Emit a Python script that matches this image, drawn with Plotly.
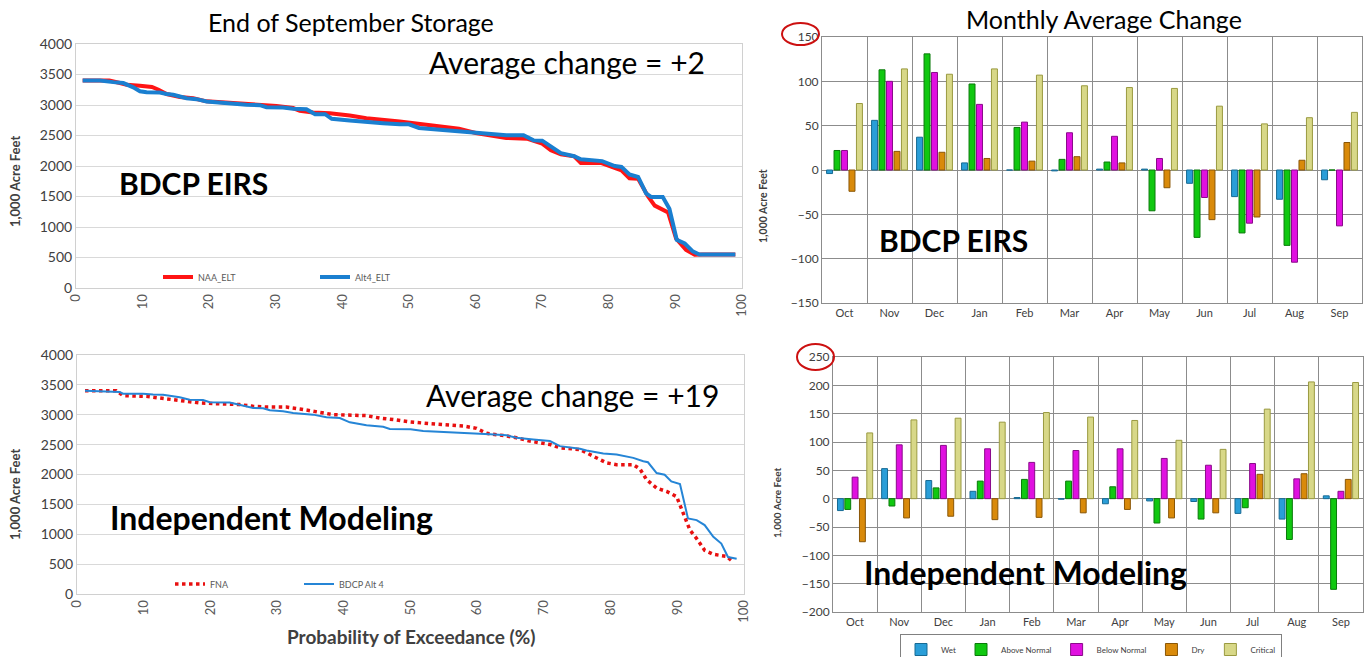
import plotly.graph_objects as go

W, H = 1365, 657

# ---------------- data ----------------
# Top-left: End of September storage, BDCP EIRS
eirs_naa_x = [1, 5, 6.6, 7.6, 9.6, 11.4, 12.4, 13.6, 15.6, 17.6, 19.6, 22.6, 26.6, 30.1, 32.6, 33.6, 35.6,
              38.1, 41.1, 43.6, 48.6, 50, 52.5, 55.6, 57.5, 60, 62.1, 64.6, 67.7, 70, 71.3, 72.8, 74.8,
              75.8, 78.8, 80.9, 81.9, 83.1, 84.4, 85.9, 86.9, 88.9, 90.1, 91.6, 92.9, 94, 99]
eirs_naa_y = [3400, 3400, 3360, 3330, 3315, 3295, 3250, 3180, 3130, 3110, 3060, 3040, 3020, 2985, 2950, 2905, 2877,
              2866, 2827, 2784, 2729, 2712, 2674, 2647, 2612, 2541, 2503, 2459, 2448, 2366, 2257, 2191, 2158,
              2050, 2050, 1960, 1930, 1800, 1790, 1500, 1350, 1240, 810, 625, 545, 550, 550]
eirs_alt4_x = [1, 3.6, 5.6, 7.1, 8.6, 9.6, 10.6, 12.6, 13.6, 14.6, 16.6, 18.1, 19.6, 20.6, 23.6, 25.6, 27.6,
               28.6, 31.1, 32.6, 34.6, 35.1, 35.9, 37.4, 38.4, 41.1, 43.6, 46.1, 48.6, 50, 51.5, 55.6,
               60, 64.6, 67.2, 68.7, 70, 72.8, 74.8, 75.8, 79, 80.9, 81.9, 83.1, 84.4, 85.6, 86.4, 88.1,
               89.1, 90.2, 91.4, 92.6, 93.6, 99]
eirs_alt4_y = [3400, 3400, 3375, 3360, 3290, 3225, 3210, 3205, 3180, 3167, 3112, 3096, 3058, 3047, 3030, 3003, 2997,
               2964, 2959, 2937, 2932, 2893, 2849, 2849, 2773, 2745, 2718, 2701, 2685, 2683, 2623, 2585,
               2547, 2503, 2503, 2420, 2415, 2210, 2160, 2110, 2080, 2000, 1985, 1860, 1820, 1550, 1490, 1490,
               1300, 790, 730, 600, 550, 550]

# Bottom-left: Independent modeling
ind_fna_x = [1.2, 5.9, 6.9, 10.4, 12.4, 14.4, 15.6, 18.4, 24.4, 26.4, 28.4, 31.4, 33.4, 36.4, 38.4, 43.4,
             45.4, 47.9, 50, 52.9, 55.4, 57.9, 59.9, 61.4, 64.4, 65.9, 67.9, 70.9, 72.4, 75.4, 77.4,
             79.4, 80.9, 83.4, 84.4, 85.4, 86.9, 88.4, 89.9, 90.9, 91.9, 92.9, 94.1, 95.4, 97.4, 98.4]
ind_fna_y = [3403, 3403, 3319, 3308, 3280, 3253, 3225, 3197, 3170, 3141, 3130, 3128, 3097, 3041, 3002, 2985,
             2945, 2913, 2880, 2851, 2829, 2812, 2773, 2689, 2644, 2615, 2559, 2503, 2447, 2418, 2306,
             2194, 2165, 2165, 2092, 1912, 1772, 1716, 1631, 1350, 1069, 928, 731, 664, 630, 534]
ind_alt4_x = [1.2, 6.4, 6.9, 9.9, 11.4, 12.9, 15.4, 16.9, 18.9, 19.9, 22.9, 24.4, 26.4, 27.9, 28.9, 30.9,
              32.4, 35.4, 37.4, 39.4, 40.9, 43.4, 44.9, 45.9, 46.9, 50, 51.9, 55.4, 59.9, 61.9, 64.4,
              65.9, 68.4, 70.9, 72.4, 75.4, 76.4, 78.9, 80.9, 83.4, 84.9, 85.6, 86.9, 88.1, 89.1, 90.4,
              91.6, 92.9, 94.1, 95.4, 96.6, 97.6, 98.9]
ind_alt4_y = [3403, 3381, 3353, 3353, 3340, 3336, 3292, 3253, 3245, 3208, 3205, 3170, 3114, 3110, 3075, 3058,
              3030, 3002, 2957, 2946, 2873, 2823, 2806, 2800, 2762, 2756, 2728, 2711, 2694, 2672, 2655,
              2615, 2587, 2559, 2475, 2430, 2401, 2351, 2334, 2278, 2222, 2205, 2025, 1997, 1884, 1840,
              1265, 1237, 1153, 956, 844, 619, 591]

months = ["Oct", "Nov", "Dec", "Jan", "Feb", "Mar", "Apr", "May", "Jun", "Jul", "Aug", "Sep"]
year_types = ["Wet", "Above Normal", "Below Normal", "Dry", "Critical"]

# Top-right: monthly average change, BDCP EIRS
eirs_wet = [-4, 56, 37, 8, 0, -1, 1, 1, -15, -30, -33, -11]
eirs_an = [22, 113, 131, 97, 48, 12, 9, -46, -76, -71, -85, 0]
eirs_bn = [22, 100, 110, 74, 54, 42, 38, 13, -31, -60, -104, -63]
eirs_dry = [-24, 21, 20, 13, 10, 15, 8, -20, -56, -53, 11, 31]
eirs_crit = [75, 114, 108, 114, 107, 95, 93, 92, 72, 52, 59, 65]

# Bottom-right: monthly average change, Independent modeling
ind_wet = [-21, 53, 32, 13, 2, -1, -9, -4, -5, -26, -36, 5]
ind_an = [-19, -13, 19, 31, 34, 31, 21, -43, -36, -16, -72, -160]
ind_bn = [38, 95, 94, 88, 64, 85, 88, 71, 59, 62, 35, 13]
ind_dry = [-76, -34, -31, -37, -33, -25, -19, -34, -25, 43, 44, 34]
ind_crit = [116, 139, 142, 135, 152, 144, 138, 103, 87, 158, 206, 205]

bar_fill = ["#2a9ed8", "#10c810", "#e010e0", "#d98a0a", "#d8d888"]
bar_edge = ["#176a94", "#0a7a0a", "#8a0a8a", "#8a5606", "#9a9a40"]

# ---------------- helpers (pixel -> paper) ----------------
def px(x):
    return x / W

def py(y):
    return 1 - y / H

fig = go.Figure()

# ---- line charts ----
fig.add_trace(go.Scatter(x=eirs_naa_x, y=eirs_naa_y, mode="lines", name="NAA_ELT",
                         line=dict(color="#ff1414", width=4), xaxis="x", yaxis="y", legend="legend"))
fig.add_trace(go.Scatter(x=eirs_alt4_x, y=eirs_alt4_y, mode="lines", name="Alt4_ELT",
                         line=dict(color="#1a7fd0", width=4), xaxis="x", yaxis="y", legend="legend"))
fig.add_trace(go.Scatter(x=ind_fna_x, y=ind_fna_y, mode="lines", name="FNA",
                         line=dict(color="#e81010", width=3.5, dash="dot"), xaxis="x2", yaxis="y2", legend="legend2"))
fig.add_trace(go.Scatter(x=ind_alt4_x, y=ind_alt4_y, mode="lines", name="BDCP Alt 4",
                         line=dict(color="#2585d6", width=2), xaxis="x2", yaxis="y2", legend="legend2"))

# ---- bar charts ----
eirs_series = [eirs_wet, eirs_an, eirs_bn, eirs_dry, eirs_crit]
ind_series = [ind_wet, ind_an, ind_bn, ind_dry, ind_crit]
for i, name in enumerate(year_types):
    fig.add_trace(go.Bar(x=months, y=eirs_series[i], name=name, showlegend=False,
                         marker=dict(color=bar_fill[i], line=dict(color=bar_edge[i], width=1)),
                         xaxis="x3", yaxis="y3", offsetgroup=str(i)))
for i, name in enumerate(year_types):
    fig.add_trace(go.Bar(x=months, y=ind_series[i], name=name,
                         marker=dict(color=bar_fill[i], line=dict(color=bar_edge[i], width=1)),
                         xaxis="x4", yaxis="y4", offsetgroup=str(i), legend="legend3"))

font_main = "Lato, 'Open Sans', sans-serif"
tick_font = dict(family=font_main, size=14, color="#404040")
xt_font = dict(family=font_main, size=13, color="#595959")

line_x_common = dict(range=[0, 100], dtick=10, tickangle=-90, showgrid=False, showline=True, mirror=True,
                     linecolor="#d0d0d0", linewidth=1, zeroline=False, tickfont=xt_font, ticks="",
                     fixedrange=True, automargin=False)
line_y_common = dict(range=[0, 4000], dtick=500, showgrid=True, gridcolor="#d9d9d9", gridwidth=1,
                     showline=True, mirror=True, linecolor="#d0d0d0", zeroline=False, tickfont=tick_font,
                     fixedrange=True, automargin=False)
bar_x_common = dict(type="category", tickson="boundaries", showgrid=True, gridcolor="#8c8c8c", gridwidth=1,
                    showline=True, mirror=True, linecolor="#8c8c8c", ticks="",
                    tickfont=dict(family=font_main, size=11, color="#404040"), fixedrange=True,
                    automargin=False)
bar_y_common = dict(dtick=50, showgrid=True, gridcolor="#8c8c8c", gridwidth=1, showline=True, mirror=True,
                    linecolor="#8c8c8c", zeroline=True, zerolinecolor="#8c8c8c", zerolinewidth=1,
                    tickfont=dict(family=font_main, size=12, color="#404040"), fixedrange=True,
                    automargin=False)

fig.update_layout(
    width=W, height=H, margin=dict(l=0, r=0, t=0, b=0, autoexpand=False),
    paper_bgcolor="white", plot_bgcolor="white",
    barmode="group", bargap=0.17, bargroupgap=0.2,
    font=dict(family=font_main, color="#000000"),
    xaxis=dict(domain=[px(76), px(742)], anchor="y", **line_x_common),
    yaxis=dict(domain=[py(288), py(44)], anchor="x", **line_y_common),
    xaxis2=dict(domain=[px(77), px(744)], anchor="y2", **line_x_common),
    yaxis2=dict(domain=[py(594), py(355)], anchor="x2", **line_y_common),
    xaxis3=dict(domain=[px(822), px(1362)], anchor="y3", **bar_x_common),
    yaxis3=dict(domain=[py(303), py(37)], anchor="x3", range=[-150, 150], **bar_y_common),
    xaxis4=dict(domain=[px(833), px(1363)], anchor="y4", **bar_x_common),
    yaxis4=dict(domain=[py(612), py(357)], anchor="x4", range=[-200, 250], **bar_y_common),
    legend=dict(orientation="h", x=px(158), y=py(277), xanchor="left", yanchor="middle",
                font=dict(family=font_main, size=9, color="#595959"), bgcolor="rgba(0,0,0,0)",
                itemwidth=30, entrywidth=112, entrywidthmode="pixels", tracegroupgap=0),
    legend2=dict(orientation="h", x=px(170), y=py(584), xanchor="left", yanchor="middle",
                 font=dict(family=font_main, size=9, color="#595959"), bgcolor="rgba(0,0,0,0)",
                 itemwidth=30, entrywidth=84, entrywidthmode="pixels"),
    legend3=dict(orientation="h", x=px(900), y=py(634), xanchor="left", yanchor="top",
                 font=dict(family=font_main, size=8, color="#404040"), bgcolor="white",
                 bordercolor="#808080", borderwidth=1, itemwidth=30),
)

annots = [
    dict(text="End of September Storage", x=px(351), y=py(22), size=25),
    dict(text="Monthly Average Change", x=px(1104), y=py(19), size=25),
    dict(text="Average change = +2", x=px(567), y=py(62), size=30),
    dict(text="Average change = +19", x=px(572), y=py(395), size=30),
    dict(text="<b>BDCP EIRS</b>", x=px(193), y=py(183), size=30),
    dict(text="<b>Independent Modeling</b>", x=px(271), y=py(517), size=32),
    dict(text="<b>BDCP EIRS</b>", x=px(953), y=py(240), size=30),
    dict(text="<b>Independent Modeling</b>", x=px(1025), y=py(572), size=32),
    dict(text="<b>Probability of Exceedance (%)</b>", x=px(411), y=py(636), size=19, color="#404040"),
]
for a in annots:
    fig.add_annotation(text=a["text"], x=a["x"], y=a["y"], xref="paper", yref="paper",
                       xanchor="center", yanchor="middle", showarrow=False,
                       font=dict(family=font_main, size=a["size"], color=a.get("color", "#000000")))

# axis titles
for (x, y, s) in [(15, 182, 13), (15, 495, 13), (763, 206, 10.5), (777, 503, 10)]:
    fig.add_annotation(text="<b>1,000 Acre Feet</b>", x=px(x), y=py(y), xref="paper", yref="paper",
                       textangle=-90, showarrow=False, xanchor="center", yanchor="middle",
                       font=dict(family=font_main, size=s, color="#404040"))

# red circles around axis maxima
fig.add_shape(type="circle", xref="paper", yref="paper", x0=px(782), x1=px(819), y0=py(45), y1=py(23),
              line=dict(color="#cc1010", width=2))
fig.add_shape(type="circle", xref="paper", yref="paper", x0=px(797), x1=px(834), y0=py(370), y1=py(344),
              line=dict(color="#cc1010", width=2))

fig.write_html("out.html", config={"displayModeBar": False},
               post_script="document.body.style.margin='0';document.body.style.overflow='hidden';")
